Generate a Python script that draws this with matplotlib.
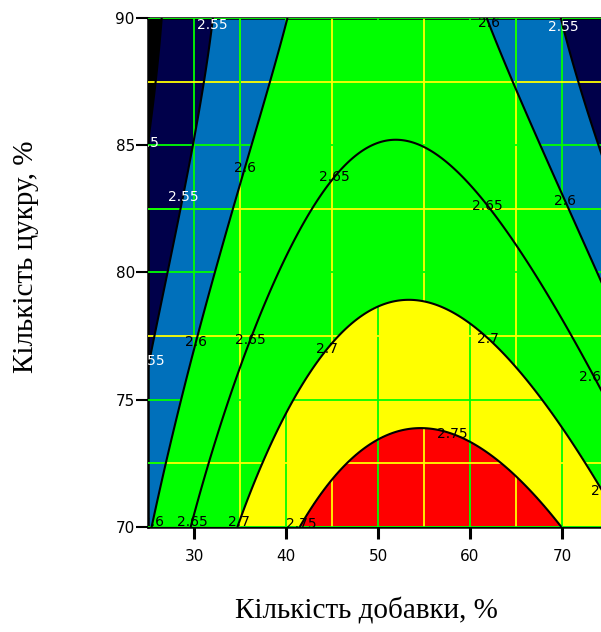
import numpy as np
import matplotlib
matplotlib.use("Agg")
import matplotlib.pyplot as plt
from matplotlib.path import Path
from matplotlib.patches import PathPatch

# contour levels of the response surface
levels = [2.5, 2.55, 2.6, 2.65, 2.7, 2.75]

# points (x = добавка, %, y = цукор, %)
c250_x = [26.6, 25.1]
c250_y = [90.0, 85.0]
c255_x = [32.0, 29.8, 28.5, 27.2, 26.3, 25.2, 70.1, 72.0, 74.2]
c255_y = [90.0, 85.0, 82.85, 80.0, 78.9, 77.0, 90.0, 86.8, 85.1]
c260_x = [39.9, 38.3, 36.1, 34.7, 32.5, 31.4, 28.8, 25.5, 61.4, 64.7, 65.4, 67.6, 69.8, 73.8]
c260_y = [90.0, 87.5, 85.0, 82.85, 80.0, 78.9, 75.0, 70.4, 90.0, 87.5, 86.8, 84.9, 83.1, 80.0]
c265_x = [29.9, 33.9, 36.4, 37.9, 39.3, 43.4, 45.1, 52.1, 54.6, 59.7, 62.2, 65.4, 68.4, 74.2]
c265_y = [70.0, 75.0, 77.35, 78.9, 80.0, 82.85, 83.75, 85.3, 85.1, 83.6, 82.6, 80.9, 79.0, 75.65]
c270_x = [35.0, 40.1, 40.7, 43.7, 45.9, 54.2, 61.8, 63.3, 67.8, 69.8, 74.2]
c270_y = [70.3, 74.6, 75.0, 76.55, 77.7, 78.9, 77.5, 76.95, 75.0, 73.9, 71.45]
c275_x = [41.2, 47.0, 54.6, 60.0, 63.3, 65.1, 69.9]
c275_y = [70.0, 72.75, 73.9, 73.3, 72.6, 71.97, 70.0]

x_ticks = [30, 40, 50, 60, 70]
x_minor = [35, 45, 55, 65]
y_ticks = [70, 75, 80, 85, 90]
y_minor = [72.5, 77.5, 82.5, 87.5]

traces = [(c250_x, c250_y), (c255_x, c255_y), (c260_x, c260_y),
          (c265_x, c265_y), (c270_x, c270_y), (c275_x, c275_y)]


def basis(x, y):
    u = (np.asarray(x) - 50) / 25
    v = (np.asarray(y) - 80) / 10
    return np.stack([np.ones_like(u), u, v, u * u, u * v, v * v,
                     u ** 3, u * u * v, u * v * v, v ** 3], axis=-1)


px = np.concatenate([t[0] for t in traces])
py = np.concatenate([t[1] for t in traces])
pz = np.concatenate([[lv] * len(t[0]) for lv, t in zip(levels, traces)])
coef, *_ = np.linalg.lstsq(basis(px, py), pz, rcond=None)

xx, yy = np.meshgrid(np.linspace(25, 75, 400), np.linspace(70, 90, 400))
zz = basis(xx, yy) @ coef

fig = plt.figure(figsize=(6.01, 6.32), dpi=100)
ax = fig.add_axes([148 / 601, 1 - 527 / 632, 460 / 601, 509 / 632])
ax.set_xlim(25, 75)
ax.set_ylim(70, 90)

fill_colors = ["#000000", "#00004a", "#0070bb", "#00ff00", "#00ff00", "#ffff00", "#ff0000"]
cf = ax.contourf(xx, yy, zz, levels=[0] + levels + [5], colors=fill_colors, zorder=0)

ax.set_xticks(x_ticks)
ax.set_xticks(x_minor, minor=True)
ax.set_yticks(y_ticks)
ax.set_yticks(y_minor, minor=True)
ax.grid(which="major", color="#00ff00", lw=1.3)
ax.grid(which="minor", color="#ffff00", lw=1.3)
ax.set_axisbelow(False)

# minor grid lines turn green over the blue zone
blue_zone = Path.make_compound_path(*cf.get_paths()[:3])
clip = PathPatch(blue_zone, transform=ax.transData, fc="none", ec="none")
ax.add_patch(clip)
green_lines = [ax.axvline(v, color="#00ff00", lw=1.3, zorder=2.6) for v in x_minor]
green_lines += [ax.axhline(v, color="#00ff00", lw=1.3, zorder=2.6) for v in [72.5, 82.5]]
for ln in green_lines:
    ln.set_clip_path(clip)

cs = ax.contour(xx, yy, zz, levels=levels, colors="black", linewidths=1.5, zorder=3)
label_spots = [(25.1, 84.7), (32.2, 89.7), (28.6, 83.0), (35.6, 84.1), (45.0, 83.8),
               (62.2, 82.7), (70.3, 82.8), (61.4, 89.7), (70.6, 89.7), (25.2, 76.5),
               (30.0, 77.3), (36.4, 77.3), (44.5, 77.0), (62.0, 77.4), (74.0, 76.0),
               (58.0, 73.6), (74.2, 71.4), (25.5, 70.2), (29.9, 70.2), (35.0, 70.2),
               (41.2, 70.2)]
cs.clabel(levels, fmt="%g", inline=False, fontsize=10,
          colors=["white", "white", "black", "black", "black", "black"],
          manual=label_spots)
for t in cs.labelTexts:
    t.set_rotation(0)

for side in ["left", "top", "bottom"]:
    ax.spines[side].set_linewidth(1.8)
ax.tick_params(which="major", length=8.5, width=1.5, labelsize=11, pad=1)
ax.tick_params(axis="x", which="major", width=2.2, pad=7)
ax.tick_params(which="minor", length=0)

fig.text(26 / 601, 1 - 257 / 632, "Кількість цукру, %", rotation=90,
         ha="center", va="center", family="Liberation Serif", fontsize=21)
fig.text(366 / 601, 1 - 611 / 632, "Кількість добавки, %",
         ha="center", va="center", family="Liberation Serif", fontsize=21)

fig.savefig("out.png", dpi=100)
